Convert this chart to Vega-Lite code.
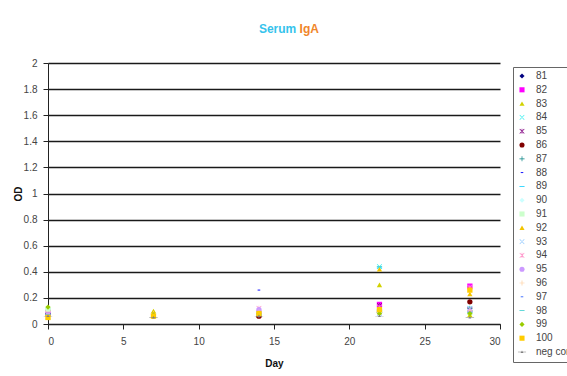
{
  "$schema": "https://vega.github.io/schema/vega-lite/v6.json",
  "autosize": "none",
  "width": 452,
  "height": 261,
  "padding": {"left": 48, "top": 63, "right": 67, "bottom": 52},
  "background": "white",
  "config": {
    "view": {"stroke": null},
    "font": "Liberation Sans",
    "axis": {
      "labelFont": "Liberation Sans",
      "labelFontSize": 10,
      "labelColor": "#444444",
      "titleFont": "Liberation Sans",
      "titleFontSize": 10,
      "titleFontWeight": "bold",
      "titleColor": "#111111",
      "domainColor": "#222222",
      "tickColor": "#222222",
      "tickSize": 5,
      "labelOverlap": false
    }
  },
  "layer": [
    {
      "data": {
        "values": [
          {"s": "81", "day": 0, "od": 0.07}, {"s": "81", "day": 14, "od": 0.07}, {"s": "81", "day": 22, "od": 0.09}, {"s": "81", "day": 28, "od": 0.10},
          {"s": "82", "day": 0, "od": 0.08}, {"s": "82", "day": 14, "od": 0.08}, {"s": "82", "day": 22, "od": 0.15}, {"s": "82", "day": 28, "od": 0.29},
          {"s": "83", "day": 0, "od": 0.12}, {"s": "83", "day": 7, "od": 0.10}, {"s": "83", "day": 14, "od": 0.07}, {"s": "83", "day": 22, "od": 0.30}, {"s": "83", "day": 28, "od": 0.07},
          {"s": "84", "day": 0, "od": 0.10}, {"s": "84", "day": 14, "od": 0.08}, {"s": "84", "day": 22, "od": 0.44}, {"s": "84", "day": 28, "od": 0.12},
          {"s": "85", "day": 0, "od": 0.09}, {"s": "85", "day": 14, "od": 0.07}, {"s": "85", "day": 22, "od": 0.14}, {"s": "85", "day": 28, "od": 0.11},
          {"s": "86", "day": 0, "od": 0.07}, {"s": "86", "day": 14, "od": 0.06}, {"s": "86", "day": 22, "od": 0.09}, {"s": "86", "day": 28, "od": 0.17},
          {"s": "87", "day": 0, "od": 0.08}, {"s": "87", "day": 14, "od": 0.07}, {"s": "87", "day": 22, "od": 0.10}, {"s": "87", "day": 28, "od": 0.12},
          {"s": "88", "day": 0, "od": 0.06}, {"s": "88", "day": 14, "od": 0.26}, {"s": "88", "day": 22, "od": 0.08}, {"s": "88", "day": 28, "od": 0.09},
          {"s": "89", "day": 0, "od": 0.07}, {"s": "89", "day": 14, "od": 0.07}, {"s": "89", "day": 22, "od": 0.43}, {"s": "89", "day": 28, "od": 0.10},
          {"s": "90", "day": 0, "od": 0.06}, {"s": "90", "day": 14, "od": 0.07}, {"s": "90", "day": 22, "od": 0.08}, {"s": "90", "day": 28, "od": 0.09},
          {"s": "91", "day": 0, "od": 0.11}, {"s": "91", "day": 14, "od": 0.08}, {"s": "91", "day": 22, "od": 0.10}, {"s": "91", "day": 28, "od": 0.09},
          {"s": "92", "day": 0, "od": 0.06}, {"s": "92", "day": 7, "od": 0.09}, {"s": "92", "day": 14, "od": 0.10}, {"s": "92", "day": 22, "od": 0.42}, {"s": "92", "day": 28, "od": 0.23},
          {"s": "93", "day": 0, "od": 0.05}, {"s": "93", "day": 14, "od": 0.08}, {"s": "93", "day": 22, "od": 0.08}, {"s": "93", "day": 28, "od": 0.12},
          {"s": "94", "day": 0, "od": 0.08}, {"s": "94", "day": 14, "od": 0.12}, {"s": "94", "day": 22, "od": 0.13}, {"s": "94", "day": 28, "od": 0.28},
          {"s": "95", "day": 0, "od": 0.07}, {"s": "95", "day": 14, "od": 0.11}, {"s": "95", "day": 22, "od": 0.11}, {"s": "95", "day": 28, "od": 0.10},
          {"s": "96", "day": 0, "od": 0.06}, {"s": "96", "day": 7, "od": 0.08}, {"s": "96", "day": 14, "od": 0.09}, {"s": "96", "day": 22, "od": 0.10}, {"s": "96", "day": 28, "od": 0.10},
          {"s": "97", "day": 0, "od": 0.06}, {"s": "97", "day": 14, "od": 0.07}, {"s": "97", "day": 22, "od": 0.08}, {"s": "97", "day": 28, "od": 0.09},
          {"s": "98", "day": 0, "od": 0.07}, {"s": "98", "day": 14, "od": 0.07}, {"s": "98", "day": 22, "od": 0.44}, {"s": "98", "day": 28, "od": 0.09},
          {"s": "99", "day": 0, "od": 0.13}, {"s": "99", "day": 7, "od": 0.07}, {"s": "99", "day": 14, "od": 0.08}, {"s": "99", "day": 22, "od": 0.08}, {"s": "99", "day": 28, "od": 0.08},
          {"s": "100", "day": 0, "od": 0.05}, {"s": "100", "day": 7, "od": 0.06}, {"s": "100", "day": 14, "od": 0.08}, {"s": "100", "day": 22, "od": 0.11}, {"s": "100", "day": 28, "od": 0.26},
          {"s": "neg control", "day": 0, "od": 0.06}, {"s": "neg control", "day": 7, "od": 0.05}, {"s": "neg control", "day": 14, "od": 0.06}, {"s": "neg control", "day": 22, "od": 0.06}, {"s": "neg control", "day": 28, "od": 0.05}
        ]
      },
      "mark": {"type": "point", "filled": true, "size": 28, "opacity": 1},
      "encoding": {
        "x": {
          "field": "day", "type": "quantitative",
          "scale": {"domain": [0, 30], "nice": false},
          "axis": {"title": "Day", "values": [0, 5, 10, 15, 20, 25, 30], "tickCount": 7, "grid": false, "labelPadding": 7, "titlePadding": 12}
        },
        "y": {
          "field": "od", "type": "quantitative",
          "scale": {"domain": [0, 2], "nice": false},
          "axis": {"title": "OD", "values": [0, 0.2, 0.4, 0.6, 0.8, 1, 1.2, 1.4, 1.6, 1.8, 2], "tickCount": 11, "format": "~g", "grid": true, "gridColor": "#1a1a1a", "gridWidth": 1.6, "labelPadding": 6, "titlePadding": 0}
        },
        "color": {
          "field": "s", "type": "nominal",
          "scale": {
            "domain": ["81","82","83","84","85","86","87","88","89","90","91","92","93","94","95","96","97","98","99","100","neg control"],
            "range": ["#000080","#FF00FF","#D2D200","#40F0F0","#800080","#800000","#008080","#0000FF","#00CCFF","#CCFFFF","#CCFFCC","#F2C400","#99CCFF","#FF99CC","#CC99FF","#FFCC99","#3366FF","#33CCCC","#99CC00","#FFCC00","#808080"]
          },
          "legend": {
            "orient": "none", "legendX": 465, "legendY": 4, "title": null,
            "strokeColor": "#666666", "fillColor": "white", "padding": 4,
            "labelFont": "Liberation Sans", "labelFontSize": 10, "labelColor": "#444444",
            "symbolSize": 26, "rowPadding": 3.8, "labelOffset": 9, "labelLimit": 200
          }
        },
        "shape": {
          "field": "s", "type": "nominal",
          "scale": {
            "domain": ["81","82","83","84","85","86","87","88","89","90","91","92","93","94","95","96","97","98","99","100","neg control"],
            "range": [
              "diamond", "square", "triangle-up",
              "M-1,-0.8L-0.8,-1L1,0.8L0.8,1Z M1,-0.8L0.8,-1L-1,0.8L-0.8,1Z",
              "M-1,-0.8L-0.8,-1L1,0.8L0.8,1Z M1,-0.8L0.8,-1L-1,0.8L-0.8,1Z M-0.12,-1H0.12V1H-0.12Z",
              "circle",
              "M-1,-0.13H1V0.13H-1Z M-0.13,-1H0.13V1H-0.13Z",
              "M-0.5,-0.18H0.5V0.18H-0.5Z",
              "M-1,-0.15H1V0.15H-1Z",
              "diamond", "square", "triangle-up",
              "M-1,-0.8L-0.8,-1L1,0.8L0.8,1Z M1,-0.8L0.8,-1L-1,0.8L-0.8,1Z",
              "M-1,-0.8L-0.8,-1L1,0.8L0.8,1Z M1,-0.8L0.8,-1L-1,0.8L-0.8,1Z M-0.12,-1H0.12V1H-0.12Z",
              "circle",
              "M-1,-0.13H1V0.13H-1Z M-0.13,-1H0.13V1H-0.13Z",
              "M-0.5,-0.18H0.5V0.18H-0.5Z",
              "M-1,-0.15H1V0.15H-1Z",
              "diamond", "square",
              "M-1.6,-0.06H1.6V0.06H-1.6Z M0,-0.6L0.55,0.35L-0.55,0.35Z"
            ]
          },
          "legend": null
        }
      }
    },
    {
      "data": {"values": [{"w": "Serum"}]},
      "mark": {"type": "text", "align": "right", "baseline": "alphabetic", "font": "Liberation Sans", "fontSize": 12, "fontWeight": "bold", "color": "#35C3EC"},
      "encoding": {
        "text": {"field": "w", "type": "nominal"},
        "x": {"datum": 16.48},
        "y": {"datum": 2.23}
      }
    },
    {
      "data": {"values": [{"w": "IgA"}]},
      "mark": {"type": "text", "align": "left", "baseline": "alphabetic", "font": "Liberation Sans", "fontSize": 12, "fontWeight": "bold", "color": "#F0862A"},
      "encoding": {
        "text": {"field": "w", "type": "nominal"},
        "x": {"datum": 16.7},
        "y": {"datum": 2.23}
      }
    }
  ]
}
